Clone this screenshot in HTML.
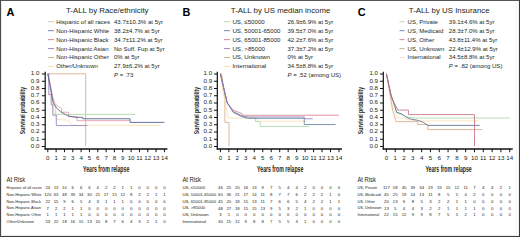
<!DOCTYPE html>
<html><head><meta charset="utf-8"><style>
html,body{margin:0;padding:0;background:#fff;width:520px;height:237px;overflow:hidden}
svg{display:block}
text{font-family:"Liberation Sans", sans-serif}
</style></head><body>
<svg width="520" height="237" viewBox="0 0 520 237">
<rect width="520" height="237" fill="#fff"/>
<text x="6.5" y="15.9" font-size="10.9" text-anchor="start" font-weight="bold" fill="#000" >A</text>
<text x="66" y="12.8" font-size="7.85" text-anchor="start" font-weight="normal" fill="#231f20" >T-ALL by Race/ethnicity</text>
<line x1="48" y1="21.7" x2="54" y2="21.7" stroke="#a8c8a0" stroke-width="0.8"/>
<text x="56.2" y="23.6" font-size="6.0" text-anchor="start" font-weight="normal" fill="#231f20" >Hispanic of all races</text>
<text x="114" y="23.6" font-size="6.05" text-anchor="start" font-weight="normal" fill="#231f20" >43.7±10.3% at 5yr</text>
<line x1="48" y1="30.67" x2="54" y2="30.67" stroke="#5a68a8" stroke-width="0.8"/>
<text x="56.2" y="32.57" font-size="6.0" text-anchor="start" font-weight="normal" fill="#231f20" >Non-Hispanic White</text>
<text x="114" y="32.57" font-size="6.05" text-anchor="start" font-weight="normal" fill="#231f20" >38.2±4.7% at 5yr</text>
<line x1="48" y1="39.64" x2="54" y2="39.64" stroke="#c0707f" stroke-width="0.8"/>
<text x="56.2" y="41.540000000000006" font-size="6.0" text-anchor="start" font-weight="normal" fill="#231f20" >Non-Hispanic Black</text>
<text x="114" y="41.540000000000006" font-size="6.05" text-anchor="start" font-weight="normal" fill="#231f20" >34.7±11.2% at 5yr</text>
<line x1="48" y1="48.61" x2="54" y2="48.61" stroke="#7a6aa8" stroke-width="0.8"/>
<text x="56.2" y="50.510000000000005" font-size="6.0" text-anchor="start" font-weight="normal" fill="#231f20" >Non-Hispanic Asian</text>
<text x="114" y="50.510000000000005" font-size="6.05" text-anchor="start" font-weight="normal" fill="#231f20" >No Suff. Fup at 5yr</text>
<line x1="48" y1="57.58" x2="54" y2="57.58" stroke="#bb9a70" stroke-width="0.8"/>
<text x="56.2" y="59.480000000000004" font-size="6.0" text-anchor="start" font-weight="normal" fill="#231f20" >Non-Hispanic Other</text>
<text x="114" y="59.480000000000004" font-size="6.05" text-anchor="start" font-weight="normal" fill="#231f20" >0% at 5yr</text>
<line x1="48" y1="66.55" x2="54" y2="66.55" stroke="#ecdca0" stroke-width="0.8"/>
<text x="56.2" y="68.45" font-size="6.0" text-anchor="start" font-weight="normal" fill="#231f20" >Other/Unknown</text>
<text x="114" y="68.45" font-size="6.05" text-anchor="start" font-weight="normal" fill="#231f20" >27.9±6.2% at 5yr</text>
<text x="114" y="77.42000000000002" font-size="6.05" fill="#231f20"><tspan font-style="italic">P</tspan> = .73</text>
<line x1="45.2" y1="71.8" x2="45.2" y2="149.6" stroke="#111" stroke-width="1.2"/>
<line x1="44.6" y1="149.0" x2="167.42000000000002" y2="149.0" stroke="#111" stroke-width="1.3"/>
<line x1="41.900000000000006" y1="146.5" x2="45.2" y2="146.5" stroke="#111" stroke-width="1.0"/>
<text x="39.4" y="147.9" font-size="6.2" text-anchor="end" font-weight="normal" fill="#231f20" >0.0</text>
<line x1="41.900000000000006" y1="139.25" x2="45.2" y2="139.25" stroke="#111" stroke-width="1.0"/>
<text x="39.4" y="140.65" font-size="6.2" text-anchor="end" font-weight="normal" fill="#231f20" >0.1</text>
<line x1="41.900000000000006" y1="132.0" x2="45.2" y2="132.0" stroke="#111" stroke-width="1.0"/>
<text x="39.4" y="133.4" font-size="6.2" text-anchor="end" font-weight="normal" fill="#231f20" >0.2</text>
<line x1="41.900000000000006" y1="124.75000000000001" x2="45.2" y2="124.75000000000001" stroke="#111" stroke-width="1.0"/>
<text x="39.4" y="126.15" font-size="6.2" text-anchor="end" font-weight="normal" fill="#231f20" >0.3</text>
<line x1="41.900000000000006" y1="117.50000000000001" x2="45.2" y2="117.50000000000001" stroke="#111" stroke-width="1.0"/>
<text x="39.4" y="118.9" font-size="6.2" text-anchor="end" font-weight="normal" fill="#231f20" >0.4</text>
<line x1="41.900000000000006" y1="110.25000000000001" x2="45.2" y2="110.25000000000001" stroke="#111" stroke-width="1.0"/>
<text x="39.4" y="111.65" font-size="6.2" text-anchor="end" font-weight="normal" fill="#231f20" >0.5</text>
<line x1="41.900000000000006" y1="103.00000000000001" x2="45.2" y2="103.00000000000001" stroke="#111" stroke-width="1.0"/>
<text x="39.4" y="104.4" font-size="6.2" text-anchor="end" font-weight="normal" fill="#231f20" >0.6</text>
<line x1="41.900000000000006" y1="95.75000000000001" x2="45.2" y2="95.75000000000001" stroke="#111" stroke-width="1.0"/>
<text x="39.4" y="97.15" font-size="6.2" text-anchor="end" font-weight="normal" fill="#231f20" >0.7</text>
<line x1="41.900000000000006" y1="88.50000000000001" x2="45.2" y2="88.50000000000001" stroke="#111" stroke-width="1.0"/>
<text x="39.4" y="89.9" font-size="6.2" text-anchor="end" font-weight="normal" fill="#231f20" >0.8</text>
<line x1="41.900000000000006" y1="81.25000000000001" x2="45.2" y2="81.25000000000001" stroke="#111" stroke-width="1.0"/>
<text x="39.4" y="82.65" font-size="6.2" text-anchor="end" font-weight="normal" fill="#231f20" >0.9</text>
<line x1="41.900000000000006" y1="74.00000000000001" x2="45.2" y2="74.00000000000001" stroke="#111" stroke-width="1.0"/>
<text x="39.4" y="75.4" font-size="6.2" text-anchor="end" font-weight="normal" fill="#231f20" >1.0</text>
<line x1="47.8" y1="149.0" x2="47.8" y2="152.2" stroke="#111" stroke-width="1.0"/>
<text x="47.8" y="160.2" font-size="6.2" text-anchor="middle" font-weight="normal" fill="#231f20" >0</text>
<line x1="56.129999999999995" y1="149.0" x2="56.129999999999995" y2="152.2" stroke="#111" stroke-width="1.0"/>
<text x="56.129999999999995" y="160.2" font-size="6.2" text-anchor="middle" font-weight="normal" fill="#231f20" >1</text>
<line x1="64.46" y1="149.0" x2="64.46" y2="152.2" stroke="#111" stroke-width="1.0"/>
<text x="64.46" y="160.2" font-size="6.2" text-anchor="middle" font-weight="normal" fill="#231f20" >2</text>
<line x1="72.78999999999999" y1="149.0" x2="72.78999999999999" y2="152.2" stroke="#111" stroke-width="1.0"/>
<text x="72.78999999999999" y="160.2" font-size="6.2" text-anchor="middle" font-weight="normal" fill="#231f20" >3</text>
<line x1="81.12" y1="149.0" x2="81.12" y2="152.2" stroke="#111" stroke-width="1.0"/>
<text x="81.12" y="160.2" font-size="6.2" text-anchor="middle" font-weight="normal" fill="#231f20" >4</text>
<line x1="89.44999999999999" y1="149.0" x2="89.44999999999999" y2="152.2" stroke="#111" stroke-width="1.0"/>
<text x="89.44999999999999" y="160.2" font-size="6.2" text-anchor="middle" font-weight="normal" fill="#231f20" >5</text>
<line x1="97.78" y1="149.0" x2="97.78" y2="152.2" stroke="#111" stroke-width="1.0"/>
<text x="97.78" y="160.2" font-size="6.2" text-anchor="middle" font-weight="normal" fill="#231f20" >6</text>
<line x1="106.11" y1="149.0" x2="106.11" y2="152.2" stroke="#111" stroke-width="1.0"/>
<text x="106.11" y="160.2" font-size="6.2" text-anchor="middle" font-weight="normal" fill="#231f20" >7</text>
<line x1="114.44" y1="149.0" x2="114.44" y2="152.2" stroke="#111" stroke-width="1.0"/>
<text x="114.44" y="160.2" font-size="6.2" text-anchor="middle" font-weight="normal" fill="#231f20" >8</text>
<line x1="122.77" y1="149.0" x2="122.77" y2="152.2" stroke="#111" stroke-width="1.0"/>
<text x="122.77" y="160.2" font-size="6.2" text-anchor="middle" font-weight="normal" fill="#231f20" >9</text>
<line x1="131.1" y1="149.0" x2="131.1" y2="152.2" stroke="#111" stroke-width="1.0"/>
<text x="131.1" y="160.2" font-size="6.2" text-anchor="middle" font-weight="normal" fill="#231f20" >10</text>
<line x1="139.43" y1="149.0" x2="139.43" y2="152.2" stroke="#111" stroke-width="1.0"/>
<text x="139.43" y="160.2" font-size="6.2" text-anchor="middle" font-weight="normal" fill="#231f20" >11</text>
<line x1="147.76" y1="149.0" x2="147.76" y2="152.2" stroke="#111" stroke-width="1.0"/>
<text x="147.76" y="160.2" font-size="6.2" text-anchor="middle" font-weight="normal" fill="#231f20" >12</text>
<line x1="156.09" y1="149.0" x2="156.09" y2="152.2" stroke="#111" stroke-width="1.0"/>
<text x="156.09" y="160.2" font-size="6.2" text-anchor="middle" font-weight="normal" fill="#231f20" >13</text>
<line x1="164.42000000000002" y1="149.0" x2="164.42000000000002" y2="152.2" stroke="#111" stroke-width="1.0"/>
<text x="164.42000000000002" y="160.2" font-size="6.2" text-anchor="middle" font-weight="normal" fill="#231f20" >14</text>
<text transform="translate(24.5,110.5) rotate(-90) scale(0.73,1)" font-size="7" font-weight="bold" text-anchor="middle" fill="#231f20">Survival probability</text>
<text transform="translate(83,172.1) scale(0.632,1)" font-size="8.2" font-weight="bold" text-anchor="start" fill="#231f20">Years from relapse</text>
<path d="M47.80,73.80 L85.70,73.80 L85.70,146.30 " fill="none" stroke="#d7a57a" stroke-width="0.8" />
<path d="M47.80,73.80 L50.30,88.30 L52.80,106.43 L55.30,117.30 L56.96,119.48 L68.62,120.20 L71.96,125.28 L160.25,125.28 " fill="none" stroke="#f6dfb0" stroke-width="0.8" />
<path d="M47.80,73.80 L50.30,86.13 L52.80,101.35 L55.71,108.60 L55.71,114.40 L135.26,114.40 " fill="none" stroke="#a6d6a0" stroke-width="0.8" />
<path d="M47.80,73.80 L50.30,83.95 L52.80,97.00 L55.30,104.25 L61.54,108.60 L61.54,112.23 L68.62,112.23 L68.62,116.58 L76.95,116.58 L76.95,120.64 L130.02,120.64 " fill="none" stroke="#e596a6" stroke-width="0.8" />
<path d="M47.80,73.80 L48.80,73.80 L48.80,94.54 L51.13,94.54 L51.13,104.90 L52.80,104.90 L52.80,115.13 L56.30,115.13 L56.30,125.57 L87.28,125.57 " fill="none" stroke="#8a78bb" stroke-width="0.8" />
<path d="M47.80,73.80 L49.88,84.68 L53.21,102.80 L56.55,107.88 L60.30,111.50 L65.29,114.40 L67.79,115.85 L75.29,117.30 L82.79,117.30 L82.79,118.75 L130.02,118.75 L130.02,122.38 L164.42,122.38 " fill="none" stroke="#55648f" stroke-width="0.9" />
<text x="6.6" y="181.9" font-size="6.6" text-anchor="start" font-weight="normal" fill="#231f20" textLength="18.6" lengthAdjust="spacingAndGlyphs">At Risk</text>
<text x="6.6" y="189.0" font-size="3.95" text-anchor="start" font-weight="normal" fill="#231f20" >Hispanic of all races</text>
<text x="47.8" y="189.1" font-size="4.25" text-anchor="middle" font-weight="normal" fill="#231f20" >24</text>
<text x="56.129999999999995" y="189.1" font-size="4.25" text-anchor="middle" font-weight="normal" fill="#231f20" >13</text>
<text x="64.46" y="189.1" font-size="4.25" text-anchor="middle" font-weight="normal" fill="#231f20" >10</text>
<text x="72.78999999999999" y="189.1" font-size="4.25" text-anchor="middle" font-weight="normal" fill="#231f20" >6</text>
<text x="81.12" y="189.1" font-size="4.25" text-anchor="middle" font-weight="normal" fill="#231f20" >6</text>
<text x="89.44999999999999" y="189.1" font-size="4.25" text-anchor="middle" font-weight="normal" fill="#231f20" >6</text>
<text x="97.78" y="189.1" font-size="4.25" text-anchor="middle" font-weight="normal" fill="#231f20" >4</text>
<text x="106.11" y="189.1" font-size="4.25" text-anchor="middle" font-weight="normal" fill="#231f20" >2</text>
<text x="114.44" y="189.1" font-size="4.25" text-anchor="middle" font-weight="normal" fill="#231f20" >2</text>
<text x="122.77" y="189.1" font-size="4.25" text-anchor="middle" font-weight="normal" fill="#231f20" >1</text>
<text x="131.1" y="189.1" font-size="4.25" text-anchor="middle" font-weight="normal" fill="#231f20" >1</text>
<text x="139.43" y="189.1" font-size="4.25" text-anchor="middle" font-weight="normal" fill="#231f20" >0</text>
<text x="147.76" y="189.1" font-size="4.25" text-anchor="middle" font-weight="normal" fill="#231f20" >0</text>
<text x="156.09" y="189.1" font-size="4.25" text-anchor="middle" font-weight="normal" fill="#231f20" >0</text>
<text x="164.42000000000002" y="189.1" font-size="4.25" text-anchor="middle" font-weight="normal" fill="#231f20" >0</text>
<text x="6.6" y="195.8" font-size="3.95" text-anchor="start" font-weight="normal" fill="#231f20" >Non-Hispanic White</text>
<text x="47.8" y="195.9" font-size="4.25" text-anchor="middle" font-weight="normal" fill="#231f20" >120</text>
<text x="56.129999999999995" y="195.9" font-size="4.25" text-anchor="middle" font-weight="normal" fill="#231f20" >63</text>
<text x="64.46" y="195.9" font-size="4.25" text-anchor="middle" font-weight="normal" fill="#231f20" >48</text>
<text x="72.78999999999999" y="195.9" font-size="4.25" text-anchor="middle" font-weight="normal" fill="#231f20" >39</text>
<text x="81.12" y="195.9" font-size="4.25" text-anchor="middle" font-weight="normal" fill="#231f20" >34</text>
<text x="89.44999999999999" y="195.9" font-size="4.25" text-anchor="middle" font-weight="normal" fill="#231f20" >30</text>
<text x="97.78" y="195.9" font-size="4.25" text-anchor="middle" font-weight="normal" fill="#231f20" >21</text>
<text x="106.11" y="195.9" font-size="4.25" text-anchor="middle" font-weight="normal" fill="#231f20" >17</text>
<text x="114.44" y="195.9" font-size="4.25" text-anchor="middle" font-weight="normal" fill="#231f20" >15</text>
<text x="122.77" y="195.9" font-size="4.25" text-anchor="middle" font-weight="normal" fill="#231f20" >12</text>
<text x="131.1" y="195.9" font-size="4.25" text-anchor="middle" font-weight="normal" fill="#231f20" >8</text>
<text x="139.43" y="195.9" font-size="4.25" text-anchor="middle" font-weight="normal" fill="#231f20" >2</text>
<text x="147.76" y="195.9" font-size="4.25" text-anchor="middle" font-weight="normal" fill="#231f20" >2</text>
<text x="156.09" y="195.9" font-size="4.25" text-anchor="middle" font-weight="normal" fill="#231f20" >1</text>
<text x="164.42000000000002" y="195.9" font-size="4.25" text-anchor="middle" font-weight="normal" fill="#231f20" >1</text>
<text x="6.6" y="202.70000000000002" font-size="3.95" text-anchor="start" font-weight="normal" fill="#231f20" >Non-Hispanic Black</text>
<text x="47.8" y="202.8" font-size="4.25" text-anchor="middle" font-weight="normal" fill="#231f20" >22</text>
<text x="56.129999999999995" y="202.8" font-size="4.25" text-anchor="middle" font-weight="normal" fill="#231f20" >15</text>
<text x="64.46" y="202.8" font-size="4.25" text-anchor="middle" font-weight="normal" fill="#231f20" >9</text>
<text x="72.78999999999999" y="202.8" font-size="4.25" text-anchor="middle" font-weight="normal" fill="#231f20" >6</text>
<text x="81.12" y="202.8" font-size="4.25" text-anchor="middle" font-weight="normal" fill="#231f20" >5</text>
<text x="89.44999999999999" y="202.8" font-size="4.25" text-anchor="middle" font-weight="normal" fill="#231f20" >4</text>
<text x="97.78" y="202.8" font-size="4.25" text-anchor="middle" font-weight="normal" fill="#231f20" >3</text>
<text x="106.11" y="202.8" font-size="4.25" text-anchor="middle" font-weight="normal" fill="#231f20" >1</text>
<text x="114.44" y="202.8" font-size="4.25" text-anchor="middle" font-weight="normal" fill="#231f20" >1</text>
<text x="122.77" y="202.8" font-size="4.25" text-anchor="middle" font-weight="normal" fill="#231f20" >1</text>
<text x="131.1" y="202.8" font-size="4.25" text-anchor="middle" font-weight="normal" fill="#231f20" >0</text>
<text x="139.43" y="202.8" font-size="4.25" text-anchor="middle" font-weight="normal" fill="#231f20" >0</text>
<text x="147.76" y="202.8" font-size="4.25" text-anchor="middle" font-weight="normal" fill="#231f20" >0</text>
<text x="156.09" y="202.8" font-size="4.25" text-anchor="middle" font-weight="normal" fill="#231f20" >0</text>
<text x="164.42000000000002" y="202.8" font-size="4.25" text-anchor="middle" font-weight="normal" fill="#231f20" >0</text>
<text x="6.6" y="209.4" font-size="3.95" text-anchor="start" font-weight="normal" fill="#231f20" >Non-Hispanic Asian</text>
<text x="47.8" y="209.5" font-size="4.25" text-anchor="middle" font-weight="normal" fill="#231f20" >7</text>
<text x="56.129999999999995" y="209.5" font-size="4.25" text-anchor="middle" font-weight="normal" fill="#231f20" >2</text>
<text x="64.46" y="209.5" font-size="4.25" text-anchor="middle" font-weight="normal" fill="#231f20" >2</text>
<text x="72.78999999999999" y="209.5" font-size="4.25" text-anchor="middle" font-weight="normal" fill="#231f20" >1</text>
<text x="81.12" y="209.5" font-size="4.25" text-anchor="middle" font-weight="normal" fill="#231f20" >1</text>
<text x="89.44999999999999" y="209.5" font-size="4.25" text-anchor="middle" font-weight="normal" fill="#231f20" >0</text>
<text x="97.78" y="209.5" font-size="4.25" text-anchor="middle" font-weight="normal" fill="#231f20" >0</text>
<text x="106.11" y="209.5" font-size="4.25" text-anchor="middle" font-weight="normal" fill="#231f20" >0</text>
<text x="114.44" y="209.5" font-size="4.25" text-anchor="middle" font-weight="normal" fill="#231f20" >0</text>
<text x="122.77" y="209.5" font-size="4.25" text-anchor="middle" font-weight="normal" fill="#231f20" >0</text>
<text x="131.1" y="209.5" font-size="4.25" text-anchor="middle" font-weight="normal" fill="#231f20" >0</text>
<text x="139.43" y="209.5" font-size="4.25" text-anchor="middle" font-weight="normal" fill="#231f20" >0</text>
<text x="147.76" y="209.5" font-size="4.25" text-anchor="middle" font-weight="normal" fill="#231f20" >0</text>
<text x="156.09" y="209.5" font-size="4.25" text-anchor="middle" font-weight="normal" fill="#231f20" >0</text>
<text x="164.42000000000002" y="209.5" font-size="4.25" text-anchor="middle" font-weight="normal" fill="#231f20" >0</text>
<text x="6.6" y="216.0" font-size="3.95" text-anchor="start" font-weight="normal" fill="#231f20" >Non-Hispanic Other</text>
<text x="47.8" y="216.1" font-size="4.25" text-anchor="middle" font-weight="normal" fill="#231f20" >1</text>
<text x="56.129999999999995" y="216.1" font-size="4.25" text-anchor="middle" font-weight="normal" fill="#231f20" >1</text>
<text x="64.46" y="216.1" font-size="4.25" text-anchor="middle" font-weight="normal" fill="#231f20" >1</text>
<text x="72.78999999999999" y="216.1" font-size="4.25" text-anchor="middle" font-weight="normal" fill="#231f20" >1</text>
<text x="81.12" y="216.1" font-size="4.25" text-anchor="middle" font-weight="normal" fill="#231f20" >1</text>
<text x="89.44999999999999" y="216.1" font-size="4.25" text-anchor="middle" font-weight="normal" fill="#231f20" >0</text>
<text x="97.78" y="216.1" font-size="4.25" text-anchor="middle" font-weight="normal" fill="#231f20" >0</text>
<text x="106.11" y="216.1" font-size="4.25" text-anchor="middle" font-weight="normal" fill="#231f20" >0</text>
<text x="114.44" y="216.1" font-size="4.25" text-anchor="middle" font-weight="normal" fill="#231f20" >0</text>
<text x="122.77" y="216.1" font-size="4.25" text-anchor="middle" font-weight="normal" fill="#231f20" >0</text>
<text x="131.1" y="216.1" font-size="4.25" text-anchor="middle" font-weight="normal" fill="#231f20" >0</text>
<text x="139.43" y="216.1" font-size="4.25" text-anchor="middle" font-weight="normal" fill="#231f20" >0</text>
<text x="147.76" y="216.1" font-size="4.25" text-anchor="middle" font-weight="normal" fill="#231f20" >0</text>
<text x="156.09" y="216.1" font-size="4.25" text-anchor="middle" font-weight="normal" fill="#231f20" >0</text>
<text x="164.42000000000002" y="216.1" font-size="4.25" text-anchor="middle" font-weight="normal" fill="#231f20" >0</text>
<text x="6.6" y="222.60000000000002" font-size="3.95" text-anchor="start" font-weight="normal" fill="#231f20" >Other/Unknown</text>
<text x="47.8" y="222.70000000000002" font-size="4.25" text-anchor="middle" font-weight="normal" fill="#231f20" >53</text>
<text x="56.129999999999995" y="222.70000000000002" font-size="4.25" text-anchor="middle" font-weight="normal" fill="#231f20" >22</text>
<text x="64.46" y="222.70000000000002" font-size="4.25" text-anchor="middle" font-weight="normal" fill="#231f20" >18</text>
<text x="72.78999999999999" y="222.70000000000002" font-size="4.25" text-anchor="middle" font-weight="normal" fill="#231f20" >16</text>
<text x="81.12" y="222.70000000000002" font-size="4.25" text-anchor="middle" font-weight="normal" fill="#231f20" >15</text>
<text x="89.44999999999999" y="222.70000000000002" font-size="4.25" text-anchor="middle" font-weight="normal" fill="#231f20" >13</text>
<text x="97.78" y="222.70000000000002" font-size="4.25" text-anchor="middle" font-weight="normal" fill="#231f20" >10</text>
<text x="106.11" y="222.70000000000002" font-size="4.25" text-anchor="middle" font-weight="normal" fill="#231f20" >8</text>
<text x="114.44" y="222.70000000000002" font-size="4.25" text-anchor="middle" font-weight="normal" fill="#231f20" >7</text>
<text x="122.77" y="222.70000000000002" font-size="4.25" text-anchor="middle" font-weight="normal" fill="#231f20" >6</text>
<text x="131.1" y="222.70000000000002" font-size="4.25" text-anchor="middle" font-weight="normal" fill="#231f20" >4</text>
<text x="139.43" y="222.70000000000002" font-size="4.25" text-anchor="middle" font-weight="normal" fill="#231f20" >3</text>
<text x="147.76" y="222.70000000000002" font-size="4.25" text-anchor="middle" font-weight="normal" fill="#231f20" >2</text>
<text x="156.09" y="222.70000000000002" font-size="4.25" text-anchor="middle" font-weight="normal" fill="#231f20" >1</text>
<text x="164.42000000000002" y="222.70000000000002" font-size="4.25" text-anchor="middle" font-weight="normal" fill="#231f20" >0</text>
<text x="182.6" y="15.9" font-size="10.9" text-anchor="start" font-weight="bold" fill="#000" >B</text>
<text x="230.8" y="12.8" font-size="7.85" text-anchor="start" font-weight="normal" fill="#231f20" >T-ALL by US median income</text>
<line x1="224" y1="21.7" x2="230" y2="21.7" stroke="#a8c8a0" stroke-width="0.8"/>
<text x="232.4" y="23.6" font-size="6.15" text-anchor="start" font-weight="normal" fill="#231f20" >US, ≤50000</text>
<text x="287.5" y="23.6" font-size="6.05" text-anchor="start" font-weight="normal" fill="#231f20" >26.9±6.9% at 5yr</text>
<line x1="224" y1="30.67" x2="230" y2="30.67" stroke="#5a68a8" stroke-width="0.8"/>
<text x="232.4" y="32.57" font-size="6.15" text-anchor="start" font-weight="normal" fill="#231f20" >US, 50001-65000</text>
<text x="287.5" y="32.57" font-size="6.05" text-anchor="start" font-weight="normal" fill="#231f20" >39.5±7.0% at 5yr</text>
<line x1="224" y1="39.64" x2="230" y2="39.64" stroke="#c0707f" stroke-width="0.8"/>
<text x="232.4" y="41.540000000000006" font-size="6.15" text-anchor="start" font-weight="normal" fill="#231f20" >US, 65001-85000</text>
<text x="287.5" y="41.540000000000006" font-size="6.05" text-anchor="start" font-weight="normal" fill="#231f20" >42.2±7.6% at 5yr</text>
<line x1="224" y1="48.61" x2="230" y2="48.61" stroke="#7a6aa8" stroke-width="0.8"/>
<text x="232.4" y="50.510000000000005" font-size="6.15" text-anchor="start" font-weight="normal" fill="#231f20" >US, &gt;85000</text>
<text x="287.5" y="50.510000000000005" font-size="6.05" text-anchor="start" font-weight="normal" fill="#231f20" >37.3±7.2% at 5yr</text>
<line x1="224" y1="57.58" x2="230" y2="57.58" stroke="#bb9a70" stroke-width="0.8"/>
<text x="232.4" y="59.480000000000004" font-size="6.15" text-anchor="start" font-weight="normal" fill="#231f20" >US, Unknown</text>
<text x="287.5" y="59.480000000000004" font-size="6.05" text-anchor="start" font-weight="normal" fill="#231f20" >0% at 5yr</text>
<line x1="224" y1="66.55" x2="230" y2="66.55" stroke="#ecdca0" stroke-width="0.8"/>
<text x="232.4" y="68.45" font-size="6.15" text-anchor="start" font-weight="normal" fill="#231f20" >International</text>
<text x="287.5" y="68.45" font-size="6.05" text-anchor="start" font-weight="normal" fill="#231f20" >34.5±8.8% at 5yr</text>
<text x="287.5" y="77.42000000000002" font-size="6.05" fill="#231f20"><tspan font-style="italic">P</tspan> = .52 (among US)</text>
<line x1="217.3" y1="71.8" x2="217.3" y2="149.6" stroke="#111" stroke-width="1.2"/>
<line x1="216.70000000000002" y1="149.0" x2="341.98" y2="149.0" stroke="#111" stroke-width="1.3"/>
<line x1="214.0" y1="146.5" x2="217.3" y2="146.5" stroke="#111" stroke-width="1.0"/>
<text x="212.1" y="147.9" font-size="6.2" text-anchor="end" font-weight="normal" fill="#231f20" >0.0</text>
<line x1="214.0" y1="139.25" x2="217.3" y2="139.25" stroke="#111" stroke-width="1.0"/>
<text x="212.1" y="140.65" font-size="6.2" text-anchor="end" font-weight="normal" fill="#231f20" >0.1</text>
<line x1="214.0" y1="132.0" x2="217.3" y2="132.0" stroke="#111" stroke-width="1.0"/>
<text x="212.1" y="133.4" font-size="6.2" text-anchor="end" font-weight="normal" fill="#231f20" >0.2</text>
<line x1="214.0" y1="124.75000000000001" x2="217.3" y2="124.75000000000001" stroke="#111" stroke-width="1.0"/>
<text x="212.1" y="126.15" font-size="6.2" text-anchor="end" font-weight="normal" fill="#231f20" >0.3</text>
<line x1="214.0" y1="117.50000000000001" x2="217.3" y2="117.50000000000001" stroke="#111" stroke-width="1.0"/>
<text x="212.1" y="118.9" font-size="6.2" text-anchor="end" font-weight="normal" fill="#231f20" >0.4</text>
<line x1="214.0" y1="110.25000000000001" x2="217.3" y2="110.25000000000001" stroke="#111" stroke-width="1.0"/>
<text x="212.1" y="111.65" font-size="6.2" text-anchor="end" font-weight="normal" fill="#231f20" >0.5</text>
<line x1="214.0" y1="103.00000000000001" x2="217.3" y2="103.00000000000001" stroke="#111" stroke-width="1.0"/>
<text x="212.1" y="104.4" font-size="6.2" text-anchor="end" font-weight="normal" fill="#231f20" >0.6</text>
<line x1="214.0" y1="95.75000000000001" x2="217.3" y2="95.75000000000001" stroke="#111" stroke-width="1.0"/>
<text x="212.1" y="97.15" font-size="6.2" text-anchor="end" font-weight="normal" fill="#231f20" >0.7</text>
<line x1="214.0" y1="88.50000000000001" x2="217.3" y2="88.50000000000001" stroke="#111" stroke-width="1.0"/>
<text x="212.1" y="89.9" font-size="6.2" text-anchor="end" font-weight="normal" fill="#231f20" >0.8</text>
<line x1="214.0" y1="81.25000000000001" x2="217.3" y2="81.25000000000001" stroke="#111" stroke-width="1.0"/>
<text x="212.1" y="82.65" font-size="6.2" text-anchor="end" font-weight="normal" fill="#231f20" >0.9</text>
<line x1="214.0" y1="74.00000000000001" x2="217.3" y2="74.00000000000001" stroke="#111" stroke-width="1.0"/>
<text x="212.1" y="75.4" font-size="6.2" text-anchor="end" font-weight="normal" fill="#231f20" >1.0</text>
<line x1="220.4" y1="149.0" x2="220.4" y2="152.2" stroke="#111" stroke-width="1.0"/>
<text x="220.4" y="160.2" font-size="6.2" text-anchor="middle" font-weight="normal" fill="#231f20" >0</text>
<line x1="228.87" y1="149.0" x2="228.87" y2="152.2" stroke="#111" stroke-width="1.0"/>
<text x="228.87" y="160.2" font-size="6.2" text-anchor="middle" font-weight="normal" fill="#231f20" >1</text>
<line x1="237.34" y1="149.0" x2="237.34" y2="152.2" stroke="#111" stroke-width="1.0"/>
<text x="237.34" y="160.2" font-size="6.2" text-anchor="middle" font-weight="normal" fill="#231f20" >2</text>
<line x1="245.81" y1="149.0" x2="245.81" y2="152.2" stroke="#111" stroke-width="1.0"/>
<text x="245.81" y="160.2" font-size="6.2" text-anchor="middle" font-weight="normal" fill="#231f20" >3</text>
<line x1="254.28" y1="149.0" x2="254.28" y2="152.2" stroke="#111" stroke-width="1.0"/>
<text x="254.28" y="160.2" font-size="6.2" text-anchor="middle" font-weight="normal" fill="#231f20" >4</text>
<line x1="262.75" y1="149.0" x2="262.75" y2="152.2" stroke="#111" stroke-width="1.0"/>
<text x="262.75" y="160.2" font-size="6.2" text-anchor="middle" font-weight="normal" fill="#231f20" >5</text>
<line x1="271.22" y1="149.0" x2="271.22" y2="152.2" stroke="#111" stroke-width="1.0"/>
<text x="271.22" y="160.2" font-size="6.2" text-anchor="middle" font-weight="normal" fill="#231f20" >6</text>
<line x1="279.69" y1="149.0" x2="279.69" y2="152.2" stroke="#111" stroke-width="1.0"/>
<text x="279.69" y="160.2" font-size="6.2" text-anchor="middle" font-weight="normal" fill="#231f20" >7</text>
<line x1="288.16" y1="149.0" x2="288.16" y2="152.2" stroke="#111" stroke-width="1.0"/>
<text x="288.16" y="160.2" font-size="6.2" text-anchor="middle" font-weight="normal" fill="#231f20" >8</text>
<line x1="296.63" y1="149.0" x2="296.63" y2="152.2" stroke="#111" stroke-width="1.0"/>
<text x="296.63" y="160.2" font-size="6.2" text-anchor="middle" font-weight="normal" fill="#231f20" >9</text>
<line x1="305.1" y1="149.0" x2="305.1" y2="152.2" stroke="#111" stroke-width="1.0"/>
<text x="305.1" y="160.2" font-size="6.2" text-anchor="middle" font-weight="normal" fill="#231f20" >10</text>
<line x1="313.57" y1="149.0" x2="313.57" y2="152.2" stroke="#111" stroke-width="1.0"/>
<text x="313.57" y="160.2" font-size="6.2" text-anchor="middle" font-weight="normal" fill="#231f20" >11</text>
<line x1="322.04" y1="149.0" x2="322.04" y2="152.2" stroke="#111" stroke-width="1.0"/>
<text x="322.04" y="160.2" font-size="6.2" text-anchor="middle" font-weight="normal" fill="#231f20" >12</text>
<line x1="330.51" y1="149.0" x2="330.51" y2="152.2" stroke="#111" stroke-width="1.0"/>
<text x="330.51" y="160.2" font-size="6.2" text-anchor="middle" font-weight="normal" fill="#231f20" >13</text>
<line x1="338.98" y1="149.0" x2="338.98" y2="152.2" stroke="#111" stroke-width="1.0"/>
<text x="338.98" y="160.2" font-size="6.2" text-anchor="middle" font-weight="normal" fill="#231f20" >14</text>
<text transform="translate(198.5,110.5) rotate(-90) scale(0.73,1)" font-size="7" font-weight="bold" text-anchor="middle" fill="#231f20">Survival probability</text>
<text transform="translate(257.1,172.1) scale(0.632,1)" font-size="8.2" font-weight="bold" text-anchor="start" fill="#231f20">Years from relapse</text>
<path d="M220.40,73.80 L221.67,73.80 L224.89,97.73 L224.89,122.38 L229.04,122.38 L229.04,146.30 " fill="none" stroke="#d7a57a" stroke-width="0.8" />
<path d="M220.40,73.80 L223.79,95.55 L228.45,118.03 L237.34,118.03 L257.67,118.03 L257.67,121.22 L307.64,121.22 " fill="none" stroke="#f6dfb0" stroke-width="0.8" />
<path d="M220.40,73.80 L222.94,84.68 L227.18,102.80 L233.11,111.50 L241.58,115.85 L245.81,118.03 L255.55,118.03 L255.55,121.65 L260.21,121.65 L260.21,126.44 L309.34,126.44 " fill="none" stroke="#a6d6a0" stroke-width="0.8" />
<path d="M220.40,73.80 L222.94,84.68 L227.18,102.80 L233.11,110.05 L242.00,113.68 L242.00,115.27 L338.98,115.27 " fill="none" stroke="#e0788a" stroke-width="0.8" />
<path d="M220.40,73.80 L222.94,84.68 L227.18,102.80 L233.11,112.23 L241.58,116.58 L248.35,118.32 L304.25,118.32 L304.25,124.55 L335.59,124.55 " fill="none" stroke="#5a7aa0" stroke-width="0.8" />
<path d="M220.40,73.80 L222.94,84.68 L227.18,102.80 L233.11,111.50 L241.58,115.85 L248.35,116.94 L304.25,116.94 L304.25,118.75 L312.72,118.75 " fill="none" stroke="#8a78bb" stroke-width="0.8" />
<text x="182.4" y="181.9" font-size="6.6" text-anchor="start" font-weight="normal" fill="#231f20" textLength="18.6" lengthAdjust="spacingAndGlyphs">At Risk</text>
<text x="182.4" y="189.0" font-size="4.3" text-anchor="start" font-weight="normal" fill="#231f20" >US, ≤50000</text>
<text x="220.4" y="189.1" font-size="4.25" text-anchor="middle" font-weight="normal" fill="#231f20" >46</text>
<text x="228.87" y="189.1" font-size="4.25" text-anchor="middle" font-weight="normal" fill="#231f20" >25</text>
<text x="237.34" y="189.1" font-size="4.25" text-anchor="middle" font-weight="normal" fill="#231f20" >20</text>
<text x="245.81" y="189.1" font-size="4.25" text-anchor="middle" font-weight="normal" fill="#231f20" >16</text>
<text x="254.28" y="189.1" font-size="4.25" text-anchor="middle" font-weight="normal" fill="#231f20" >13</text>
<text x="262.75" y="189.1" font-size="4.25" text-anchor="middle" font-weight="normal" fill="#231f20" >9</text>
<text x="271.22" y="189.1" font-size="4.25" text-anchor="middle" font-weight="normal" fill="#231f20" >7</text>
<text x="279.69" y="189.1" font-size="4.25" text-anchor="middle" font-weight="normal" fill="#231f20" >5</text>
<text x="288.16" y="189.1" font-size="4.25" text-anchor="middle" font-weight="normal" fill="#231f20" >4</text>
<text x="296.63" y="189.1" font-size="4.25" text-anchor="middle" font-weight="normal" fill="#231f20" >4</text>
<text x="305.1" y="189.1" font-size="4.25" text-anchor="middle" font-weight="normal" fill="#231f20" >2</text>
<text x="313.57" y="189.1" font-size="4.25" text-anchor="middle" font-weight="normal" fill="#231f20" >0</text>
<text x="322.04" y="189.1" font-size="4.25" text-anchor="middle" font-weight="normal" fill="#231f20" >0</text>
<text x="330.51" y="189.1" font-size="4.25" text-anchor="middle" font-weight="normal" fill="#231f20" >0</text>
<text x="338.98" y="189.1" font-size="4.25" text-anchor="middle" font-weight="normal" fill="#231f20" >0</text>
<text x="182.4" y="195.8" font-size="4.3" text-anchor="start" font-weight="normal" fill="#231f20" >US, 50001-65000</text>
<text x="220.4" y="195.9" font-size="4.25" text-anchor="middle" font-weight="normal" fill="#231f20" >60</text>
<text x="228.87" y="195.9" font-size="4.25" text-anchor="middle" font-weight="normal" fill="#231f20" >36</text>
<text x="237.34" y="195.9" font-size="4.25" text-anchor="middle" font-weight="normal" fill="#231f20" >21</text>
<text x="245.81" y="195.9" font-size="4.25" text-anchor="middle" font-weight="normal" fill="#231f20" >17</text>
<text x="254.28" y="195.9" font-size="4.25" text-anchor="middle" font-weight="normal" fill="#231f20" >14</text>
<text x="262.75" y="195.9" font-size="4.25" text-anchor="middle" font-weight="normal" fill="#231f20" >11</text>
<text x="271.22" y="195.9" font-size="4.25" text-anchor="middle" font-weight="normal" fill="#231f20" >8</text>
<text x="279.69" y="195.9" font-size="4.25" text-anchor="middle" font-weight="normal" fill="#231f20" >7</text>
<text x="288.16" y="195.9" font-size="4.25" text-anchor="middle" font-weight="normal" fill="#231f20" >7</text>
<text x="296.63" y="195.9" font-size="4.25" text-anchor="middle" font-weight="normal" fill="#231f20" >6</text>
<text x="305.1" y="195.9" font-size="4.25" text-anchor="middle" font-weight="normal" fill="#231f20" >2</text>
<text x="313.57" y="195.9" font-size="4.25" text-anchor="middle" font-weight="normal" fill="#231f20" >2</text>
<text x="322.04" y="195.9" font-size="4.25" text-anchor="middle" font-weight="normal" fill="#231f20" >2</text>
<text x="330.51" y="195.9" font-size="4.25" text-anchor="middle" font-weight="normal" fill="#231f20" >1</text>
<text x="338.98" y="195.9" font-size="4.25" text-anchor="middle" font-weight="normal" fill="#231f20" >0</text>
<text x="182.4" y="202.70000000000002" font-size="4.3" text-anchor="start" font-weight="normal" fill="#231f20" >US, 65001-85000</text>
<text x="220.4" y="202.8" font-size="4.25" text-anchor="middle" font-weight="normal" fill="#231f20" >45</text>
<text x="228.87" y="202.8" font-size="4.25" text-anchor="middle" font-weight="normal" fill="#231f20" >20</text>
<text x="237.34" y="202.8" font-size="4.25" text-anchor="middle" font-weight="normal" fill="#231f20" >18</text>
<text x="245.81" y="202.8" font-size="4.25" text-anchor="middle" font-weight="normal" fill="#231f20" >15</text>
<text x="254.28" y="202.8" font-size="4.25" text-anchor="middle" font-weight="normal" fill="#231f20" >13</text>
<text x="262.75" y="202.8" font-size="4.25" text-anchor="middle" font-weight="normal" fill="#231f20" >11</text>
<text x="271.22" y="202.8" font-size="4.25" text-anchor="middle" font-weight="normal" fill="#231f20" >7</text>
<text x="279.69" y="202.8" font-size="4.25" text-anchor="middle" font-weight="normal" fill="#231f20" >6</text>
<text x="288.16" y="202.8" font-size="4.25" text-anchor="middle" font-weight="normal" fill="#231f20" >6</text>
<text x="296.63" y="202.8" font-size="4.25" text-anchor="middle" font-weight="normal" fill="#231f20" >5</text>
<text x="305.1" y="202.8" font-size="4.25" text-anchor="middle" font-weight="normal" fill="#231f20" >4</text>
<text x="313.57" y="202.8" font-size="4.25" text-anchor="middle" font-weight="normal" fill="#231f20" >2</text>
<text x="322.04" y="202.8" font-size="4.25" text-anchor="middle" font-weight="normal" fill="#231f20" >2</text>
<text x="330.51" y="202.8" font-size="4.25" text-anchor="middle" font-weight="normal" fill="#231f20" >1</text>
<text x="338.98" y="202.8" font-size="4.25" text-anchor="middle" font-weight="normal" fill="#231f20" >1</text>
<text x="182.4" y="209.4" font-size="4.3" text-anchor="start" font-weight="normal" fill="#231f20" >US, &gt;85000</text>
<text x="220.4" y="209.5" font-size="4.25" text-anchor="middle" font-weight="normal" fill="#231f20" >48</text>
<text x="228.87" y="209.5" font-size="4.25" text-anchor="middle" font-weight="normal" fill="#231f20" >27</text>
<text x="237.34" y="209.5" font-size="4.25" text-anchor="middle" font-weight="normal" fill="#231f20" >18</text>
<text x="245.81" y="209.5" font-size="4.25" text-anchor="middle" font-weight="normal" fill="#231f20" >15</text>
<text x="254.28" y="209.5" font-size="4.25" text-anchor="middle" font-weight="normal" fill="#231f20" >15</text>
<text x="262.75" y="209.5" font-size="4.25" text-anchor="middle" font-weight="normal" fill="#231f20" >13</text>
<text x="271.22" y="209.5" font-size="4.25" text-anchor="middle" font-weight="normal" fill="#231f20" >9</text>
<text x="279.69" y="209.5" font-size="4.25" text-anchor="middle" font-weight="normal" fill="#231f20" >5</text>
<text x="288.16" y="209.5" font-size="4.25" text-anchor="middle" font-weight="normal" fill="#231f20" >3</text>
<text x="296.63" y="209.5" font-size="4.25" text-anchor="middle" font-weight="normal" fill="#231f20" >2</text>
<text x="305.1" y="209.5" font-size="4.25" text-anchor="middle" font-weight="normal" fill="#231f20" >1</text>
<text x="313.57" y="209.5" font-size="4.25" text-anchor="middle" font-weight="normal" fill="#231f20" >0</text>
<text x="322.04" y="209.5" font-size="4.25" text-anchor="middle" font-weight="normal" fill="#231f20" >0</text>
<text x="330.51" y="209.5" font-size="4.25" text-anchor="middle" font-weight="normal" fill="#231f20" >0</text>
<text x="338.98" y="209.5" font-size="4.25" text-anchor="middle" font-weight="normal" fill="#231f20" >0</text>
<text x="182.4" y="216.0" font-size="4.3" text-anchor="start" font-weight="normal" fill="#231f20" >US, Unknown</text>
<text x="220.4" y="216.1" font-size="4.25" text-anchor="middle" font-weight="normal" fill="#231f20" >3</text>
<text x="228.87" y="216.1" font-size="4.25" text-anchor="middle" font-weight="normal" fill="#231f20" >1</text>
<text x="237.34" y="216.1" font-size="4.25" text-anchor="middle" font-weight="normal" fill="#231f20" >0</text>
<text x="245.81" y="216.1" font-size="4.25" text-anchor="middle" font-weight="normal" fill="#231f20" >0</text>
<text x="254.28" y="216.1" font-size="4.25" text-anchor="middle" font-weight="normal" fill="#231f20" >0</text>
<text x="262.75" y="216.1" font-size="4.25" text-anchor="middle" font-weight="normal" fill="#231f20" >0</text>
<text x="271.22" y="216.1" font-size="4.25" text-anchor="middle" font-weight="normal" fill="#231f20" >0</text>
<text x="279.69" y="216.1" font-size="4.25" text-anchor="middle" font-weight="normal" fill="#231f20" >0</text>
<text x="288.16" y="216.1" font-size="4.25" text-anchor="middle" font-weight="normal" fill="#231f20" >0</text>
<text x="296.63" y="216.1" font-size="4.25" text-anchor="middle" font-weight="normal" fill="#231f20" >0</text>
<text x="305.1" y="216.1" font-size="4.25" text-anchor="middle" font-weight="normal" fill="#231f20" >0</text>
<text x="313.57" y="216.1" font-size="4.25" text-anchor="middle" font-weight="normal" fill="#231f20" >0</text>
<text x="322.04" y="216.1" font-size="4.25" text-anchor="middle" font-weight="normal" fill="#231f20" >0</text>
<text x="330.51" y="216.1" font-size="4.25" text-anchor="middle" font-weight="normal" fill="#231f20" >0</text>
<text x="338.98" y="216.1" font-size="4.25" text-anchor="middle" font-weight="normal" fill="#231f20" >0</text>
<text x="182.4" y="222.60000000000002" font-size="4.3" text-anchor="start" font-weight="normal" fill="#231f20" >International</text>
<text x="220.4" y="222.70000000000002" font-size="4.25" text-anchor="middle" font-weight="normal" fill="#231f20" >30</text>
<text x="228.87" y="222.70000000000002" font-size="4.25" text-anchor="middle" font-weight="normal" fill="#231f20" >15</text>
<text x="237.34" y="222.70000000000002" font-size="4.25" text-anchor="middle" font-weight="normal" fill="#231f20" >12</text>
<text x="245.81" y="222.70000000000002" font-size="4.25" text-anchor="middle" font-weight="normal" fill="#231f20" >9</text>
<text x="254.28" y="222.70000000000002" font-size="4.25" text-anchor="middle" font-weight="normal" fill="#231f20" >8</text>
<text x="262.75" y="222.70000000000002" font-size="4.25" text-anchor="middle" font-weight="normal" fill="#231f20" >8</text>
<text x="271.22" y="222.70000000000002" font-size="4.25" text-anchor="middle" font-weight="normal" fill="#231f20" >7</text>
<text x="279.69" y="222.70000000000002" font-size="4.25" text-anchor="middle" font-weight="normal" fill="#231f20" >5</text>
<text x="288.16" y="222.70000000000002" font-size="4.25" text-anchor="middle" font-weight="normal" fill="#231f20" >5</text>
<text x="296.63" y="222.70000000000002" font-size="4.25" text-anchor="middle" font-weight="normal" fill="#231f20" >3</text>
<text x="305.1" y="222.70000000000002" font-size="4.25" text-anchor="middle" font-weight="normal" fill="#231f20" >1</text>
<text x="313.57" y="222.70000000000002" font-size="4.25" text-anchor="middle" font-weight="normal" fill="#231f20" >0</text>
<text x="322.04" y="222.70000000000002" font-size="4.25" text-anchor="middle" font-weight="normal" fill="#231f20" >0</text>
<text x="330.51" y="222.70000000000002" font-size="4.25" text-anchor="middle" font-weight="normal" fill="#231f20" >0</text>
<text x="338.98" y="222.70000000000002" font-size="4.25" text-anchor="middle" font-weight="normal" fill="#231f20" >0</text>
<text x="357.7" y="15.9" font-size="10.9" text-anchor="start" font-weight="bold" fill="#000" >C</text>
<text x="408.8" y="12.8" font-size="7.85" text-anchor="start" font-weight="normal" fill="#231f20" >T-ALL by US Insurance</text>
<line x1="399.5" y1="21.7" x2="404.5" y2="21.7" stroke="#a8c8a0" stroke-width="0.8"/>
<text x="407.6" y="23.6" font-size="6.0" text-anchor="start" font-weight="normal" fill="#231f20" >US, Private</text>
<text x="448.8" y="23.6" font-size="6.05" text-anchor="start" font-weight="normal" fill="#231f20" >39.1±4.6% at 5yr</text>
<line x1="399.5" y1="30.67" x2="404.5" y2="30.67" stroke="#5a68a8" stroke-width="0.8"/>
<text x="407.6" y="32.57" font-size="6.0" text-anchor="start" font-weight="normal" fill="#231f20" >US, Medicaid</text>
<text x="448.8" y="32.57" font-size="6.05" text-anchor="start" font-weight="normal" fill="#231f20" >28.3±7.0% at 5yr</text>
<line x1="399.5" y1="39.64" x2="404.5" y2="39.64" stroke="#c0707f" stroke-width="0.8"/>
<text x="407.6" y="41.540000000000006" font-size="6.0" text-anchor="start" font-weight="normal" fill="#231f20" >US, Other</text>
<text x="448.8" y="41.540000000000006" font-size="6.05" text-anchor="start" font-weight="normal" fill="#231f20" >43.8±11.4% at 5yr</text>
<line x1="399.5" y1="48.61" x2="404.5" y2="48.61" stroke="#bb9a70" stroke-width="0.8"/>
<text x="407.6" y="50.510000000000005" font-size="6.0" text-anchor="start" font-weight="normal" fill="#231f20" >US, Unknown</text>
<text x="448.8" y="50.510000000000005" font-size="6.05" text-anchor="start" font-weight="normal" fill="#231f20" >22.4±12.9% at 5yr</text>
<line x1="399.5" y1="57.58" x2="404.5" y2="57.58" stroke="#ecdca0" stroke-width="0.8"/>
<text x="407.6" y="59.480000000000004" font-size="6.0" text-anchor="start" font-weight="normal" fill="#231f20" >International</text>
<text x="448.8" y="59.480000000000004" font-size="6.05" text-anchor="start" font-weight="normal" fill="#231f20" >34.5±8.8% at 5yr</text>
<text x="448.8" y="68.45" font-size="6.05" fill="#231f20"><tspan font-style="italic">P</tspan> = .82 (among US)</text>
<line x1="383.3" y1="71.8" x2="383.3" y2="149.6" stroke="#111" stroke-width="1.2"/>
<line x1="382.7" y1="149.0" x2="512.74" y2="149.0" stroke="#111" stroke-width="1.3"/>
<line x1="380.0" y1="146.5" x2="383.3" y2="146.5" stroke="#111" stroke-width="1.0"/>
<text x="378" y="147.9" font-size="6.2" text-anchor="end" font-weight="normal" fill="#231f20" >0.0</text>
<line x1="380.0" y1="139.25" x2="383.3" y2="139.25" stroke="#111" stroke-width="1.0"/>
<text x="378" y="140.65" font-size="6.2" text-anchor="end" font-weight="normal" fill="#231f20" >0.1</text>
<line x1="380.0" y1="132.0" x2="383.3" y2="132.0" stroke="#111" stroke-width="1.0"/>
<text x="378" y="133.4" font-size="6.2" text-anchor="end" font-weight="normal" fill="#231f20" >0.2</text>
<line x1="380.0" y1="124.75000000000001" x2="383.3" y2="124.75000000000001" stroke="#111" stroke-width="1.0"/>
<text x="378" y="126.15" font-size="6.2" text-anchor="end" font-weight="normal" fill="#231f20" >0.3</text>
<line x1="380.0" y1="117.50000000000001" x2="383.3" y2="117.50000000000001" stroke="#111" stroke-width="1.0"/>
<text x="378" y="118.9" font-size="6.2" text-anchor="end" font-weight="normal" fill="#231f20" >0.4</text>
<line x1="380.0" y1="110.25000000000001" x2="383.3" y2="110.25000000000001" stroke="#111" stroke-width="1.0"/>
<text x="378" y="111.65" font-size="6.2" text-anchor="end" font-weight="normal" fill="#231f20" >0.5</text>
<line x1="380.0" y1="103.00000000000001" x2="383.3" y2="103.00000000000001" stroke="#111" stroke-width="1.0"/>
<text x="378" y="104.4" font-size="6.2" text-anchor="end" font-weight="normal" fill="#231f20" >0.6</text>
<line x1="380.0" y1="95.75000000000001" x2="383.3" y2="95.75000000000001" stroke="#111" stroke-width="1.0"/>
<text x="378" y="97.15" font-size="6.2" text-anchor="end" font-weight="normal" fill="#231f20" >0.7</text>
<line x1="380.0" y1="88.50000000000001" x2="383.3" y2="88.50000000000001" stroke="#111" stroke-width="1.0"/>
<text x="378" y="89.9" font-size="6.2" text-anchor="end" font-weight="normal" fill="#231f20" >0.8</text>
<line x1="380.0" y1="81.25000000000001" x2="383.3" y2="81.25000000000001" stroke="#111" stroke-width="1.0"/>
<text x="378" y="82.65" font-size="6.2" text-anchor="end" font-weight="normal" fill="#231f20" >0.9</text>
<line x1="380.0" y1="74.00000000000001" x2="383.3" y2="74.00000000000001" stroke="#111" stroke-width="1.0"/>
<text x="378" y="75.4" font-size="6.2" text-anchor="end" font-weight="normal" fill="#231f20" >1.0</text>
<line x1="386.4" y1="149.0" x2="386.4" y2="152.2" stroke="#111" stroke-width="1.0"/>
<text x="386.4" y="160.2" font-size="6.2" text-anchor="middle" font-weight="normal" fill="#231f20" >0</text>
<line x1="395.21" y1="149.0" x2="395.21" y2="152.2" stroke="#111" stroke-width="1.0"/>
<text x="395.21" y="160.2" font-size="6.2" text-anchor="middle" font-weight="normal" fill="#231f20" >1</text>
<line x1="404.02" y1="149.0" x2="404.02" y2="152.2" stroke="#111" stroke-width="1.0"/>
<text x="404.02" y="160.2" font-size="6.2" text-anchor="middle" font-weight="normal" fill="#231f20" >2</text>
<line x1="412.83" y1="149.0" x2="412.83" y2="152.2" stroke="#111" stroke-width="1.0"/>
<text x="412.83" y="160.2" font-size="6.2" text-anchor="middle" font-weight="normal" fill="#231f20" >3</text>
<line x1="421.64" y1="149.0" x2="421.64" y2="152.2" stroke="#111" stroke-width="1.0"/>
<text x="421.64" y="160.2" font-size="6.2" text-anchor="middle" font-weight="normal" fill="#231f20" >4</text>
<line x1="430.45" y1="149.0" x2="430.45" y2="152.2" stroke="#111" stroke-width="1.0"/>
<text x="430.45" y="160.2" font-size="6.2" text-anchor="middle" font-weight="normal" fill="#231f20" >5</text>
<line x1="439.26" y1="149.0" x2="439.26" y2="152.2" stroke="#111" stroke-width="1.0"/>
<text x="439.26" y="160.2" font-size="6.2" text-anchor="middle" font-weight="normal" fill="#231f20" >6</text>
<line x1="448.07" y1="149.0" x2="448.07" y2="152.2" stroke="#111" stroke-width="1.0"/>
<text x="448.07" y="160.2" font-size="6.2" text-anchor="middle" font-weight="normal" fill="#231f20" >7</text>
<line x1="456.88" y1="149.0" x2="456.88" y2="152.2" stroke="#111" stroke-width="1.0"/>
<text x="456.88" y="160.2" font-size="6.2" text-anchor="middle" font-weight="normal" fill="#231f20" >8</text>
<line x1="465.69" y1="149.0" x2="465.69" y2="152.2" stroke="#111" stroke-width="1.0"/>
<text x="465.69" y="160.2" font-size="6.2" text-anchor="middle" font-weight="normal" fill="#231f20" >9</text>
<line x1="474.5" y1="149.0" x2="474.5" y2="152.2" stroke="#111" stroke-width="1.0"/>
<text x="474.5" y="160.2" font-size="6.2" text-anchor="middle" font-weight="normal" fill="#231f20" >10</text>
<line x1="483.31" y1="149.0" x2="483.31" y2="152.2" stroke="#111" stroke-width="1.0"/>
<text x="483.31" y="160.2" font-size="6.2" text-anchor="middle" font-weight="normal" fill="#231f20" >11</text>
<line x1="492.12" y1="149.0" x2="492.12" y2="152.2" stroke="#111" stroke-width="1.0"/>
<text x="492.12" y="160.2" font-size="6.2" text-anchor="middle" font-weight="normal" fill="#231f20" >12</text>
<line x1="500.92999999999995" y1="149.0" x2="500.92999999999995" y2="152.2" stroke="#111" stroke-width="1.0"/>
<text x="500.92999999999995" y="160.2" font-size="6.2" text-anchor="middle" font-weight="normal" fill="#231f20" >13</text>
<line x1="509.74" y1="149.0" x2="509.74" y2="152.2" stroke="#111" stroke-width="1.0"/>
<text x="509.74" y="160.2" font-size="6.2" text-anchor="middle" font-weight="normal" fill="#231f20" >14</text>
<text transform="translate(363,110.5) rotate(-90) scale(0.73,1)" font-size="7" font-weight="bold" text-anchor="middle" fill="#231f20">Survival probability</text>
<text transform="translate(425.4,172.1) scale(0.632,1)" font-size="8.2" font-weight="bold" text-anchor="start" fill="#231f20">Years from relapse</text>
<path d="M386.40,73.80 L389.04,88.30 L392.57,106.43 L396.97,117.30 L408.42,119.48 L417.23,120.93 L478.90,120.93 " fill="none" stroke="#f6dfb0" stroke-width="0.8" />
<path d="M386.40,73.80 L389.04,88.30 L392.57,110.05 L396.09,121.65 L417.76,121.65 L417.76,124.55 L427.81,124.55 L427.81,129.62 L482.43,129.62 " fill="none" stroke="#d7a57a" stroke-width="0.8" />
<path d="M386.40,73.80 L390.80,94.10 L396.97,112.95 L402.26,115.13 L408.42,117.30 L415.47,118.03 L509.74,118.03 " fill="none" stroke="#a6d6a0" stroke-width="0.8" />
<path d="M386.40,73.80 L390.80,94.10 L396.71,112.23 L401.73,113.89 L405.96,117.08 L410.63,119.04 L417.23,120.20 L423.40,122.38 L427.81,125.42 L479.79,125.42 " fill="none" stroke="#55648f" stroke-width="0.8" />
<path d="M386.40,73.80 L391.60,97.73 L397.85,110.05 L408.42,110.05 L408.42,114.62 L474.50,114.62 L474.50,146.30 " fill="none" stroke="#c46878" stroke-width="0.8" />
<text x="357.4" y="181.9" font-size="6.6" text-anchor="start" font-weight="normal" fill="#231f20" textLength="18.6" lengthAdjust="spacingAndGlyphs">At Risk</text>
<text x="357.4" y="189.0" font-size="3.95" text-anchor="start" font-weight="normal" fill="#231f20" >US, Private</text>
<text x="386.4" y="189.1" font-size="4.25" text-anchor="middle" font-weight="normal" fill="#231f20" >117</text>
<text x="395.21" y="189.1" font-size="4.25" text-anchor="middle" font-weight="normal" fill="#231f20" >58</text>
<text x="404.02" y="189.1" font-size="4.25" text-anchor="middle" font-weight="normal" fill="#231f20" >45</text>
<text x="412.83" y="189.1" font-size="4.25" text-anchor="middle" font-weight="normal" fill="#231f20" >39</text>
<text x="421.64" y="189.1" font-size="4.25" text-anchor="middle" font-weight="normal" fill="#231f20" >34</text>
<text x="430.45" y="189.1" font-size="4.25" text-anchor="middle" font-weight="normal" fill="#231f20" >29</text>
<text x="439.26" y="189.1" font-size="4.25" text-anchor="middle" font-weight="normal" fill="#231f20" >19</text>
<text x="448.07" y="189.1" font-size="4.25" text-anchor="middle" font-weight="normal" fill="#231f20" >15</text>
<text x="456.88" y="189.1" font-size="4.25" text-anchor="middle" font-weight="normal" fill="#231f20" >12</text>
<text x="465.69" y="189.1" font-size="4.25" text-anchor="middle" font-weight="normal" fill="#231f20" >11</text>
<text x="474.5" y="189.1" font-size="4.25" text-anchor="middle" font-weight="normal" fill="#231f20" >7</text>
<text x="483.31" y="189.1" font-size="4.25" text-anchor="middle" font-weight="normal" fill="#231f20" >4</text>
<text x="492.12" y="189.1" font-size="4.25" text-anchor="middle" font-weight="normal" fill="#231f20" >4</text>
<text x="500.92999999999995" y="189.1" font-size="4.25" text-anchor="middle" font-weight="normal" fill="#231f20" >2</text>
<text x="509.74" y="189.1" font-size="4.25" text-anchor="middle" font-weight="normal" fill="#231f20" >1</text>
<text x="357.4" y="195.8" font-size="3.95" text-anchor="start" font-weight="normal" fill="#231f20" >US, Medicaid</text>
<text x="386.4" y="195.9" font-size="4.25" text-anchor="middle" font-weight="normal" fill="#231f20" >45</text>
<text x="395.21" y="195.9" font-size="4.25" text-anchor="middle" font-weight="normal" fill="#231f20" >25</text>
<text x="404.02" y="195.9" font-size="4.25" text-anchor="middle" font-weight="normal" fill="#231f20" >19</text>
<text x="412.83" y="195.9" font-size="4.25" text-anchor="middle" font-weight="normal" fill="#231f20" >14</text>
<text x="421.64" y="195.9" font-size="4.25" text-anchor="middle" font-weight="normal" fill="#231f20" >13</text>
<text x="430.45" y="195.9" font-size="4.25" text-anchor="middle" font-weight="normal" fill="#231f20" >11</text>
<text x="439.26" y="195.9" font-size="4.25" text-anchor="middle" font-weight="normal" fill="#231f20" >8</text>
<text x="448.07" y="195.9" font-size="4.25" text-anchor="middle" font-weight="normal" fill="#231f20" >5</text>
<text x="456.88" y="195.9" font-size="4.25" text-anchor="middle" font-weight="normal" fill="#231f20" >5</text>
<text x="465.69" y="195.9" font-size="4.25" text-anchor="middle" font-weight="normal" fill="#231f20" >4</text>
<text x="474.5" y="195.9" font-size="4.25" text-anchor="middle" font-weight="normal" fill="#231f20" >2</text>
<text x="483.31" y="195.9" font-size="4.25" text-anchor="middle" font-weight="normal" fill="#231f20" >0</text>
<text x="492.12" y="195.9" font-size="4.25" text-anchor="middle" font-weight="normal" fill="#231f20" >0</text>
<text x="500.92999999999995" y="195.9" font-size="4.25" text-anchor="middle" font-weight="normal" fill="#231f20" >0</text>
<text x="509.74" y="195.9" font-size="4.25" text-anchor="middle" font-weight="normal" fill="#231f20" >0</text>
<text x="357.4" y="202.70000000000002" font-size="3.95" text-anchor="start" font-weight="normal" fill="#231f20" >US, Other</text>
<text x="386.4" y="202.8" font-size="4.25" text-anchor="middle" font-weight="normal" fill="#231f20" >20</text>
<text x="395.21" y="202.8" font-size="4.25" text-anchor="middle" font-weight="normal" fill="#231f20" >13</text>
<text x="404.02" y="202.8" font-size="4.25" text-anchor="middle" font-weight="normal" fill="#231f20" >9</text>
<text x="412.83" y="202.8" font-size="4.25" text-anchor="middle" font-weight="normal" fill="#231f20" >8</text>
<text x="421.64" y="202.8" font-size="4.25" text-anchor="middle" font-weight="normal" fill="#231f20" >5</text>
<text x="430.45" y="202.8" font-size="4.25" text-anchor="middle" font-weight="normal" fill="#231f20" >3</text>
<text x="439.26" y="202.8" font-size="4.25" text-anchor="middle" font-weight="normal" fill="#231f20" >2</text>
<text x="448.07" y="202.8" font-size="4.25" text-anchor="middle" font-weight="normal" fill="#231f20" >2</text>
<text x="456.88" y="202.8" font-size="4.25" text-anchor="middle" font-weight="normal" fill="#231f20" >1</text>
<text x="465.69" y="202.8" font-size="4.25" text-anchor="middle" font-weight="normal" fill="#231f20" >1</text>
<text x="474.5" y="202.8" font-size="4.25" text-anchor="middle" font-weight="normal" fill="#231f20" >0</text>
<text x="483.31" y="202.8" font-size="4.25" text-anchor="middle" font-weight="normal" fill="#231f20" >0</text>
<text x="492.12" y="202.8" font-size="4.25" text-anchor="middle" font-weight="normal" fill="#231f20" >0</text>
<text x="500.92999999999995" y="202.8" font-size="4.25" text-anchor="middle" font-weight="normal" fill="#231f20" >0</text>
<text x="509.74" y="202.8" font-size="4.25" text-anchor="middle" font-weight="normal" fill="#231f20" >0</text>
<text x="357.4" y="209.4" font-size="3.95" text-anchor="start" font-weight="normal" fill="#231f20" >US, Unknown</text>
<text x="386.4" y="209.5" font-size="4.25" text-anchor="middle" font-weight="normal" fill="#231f20" >13</text>
<text x="395.21" y="209.5" font-size="4.25" text-anchor="middle" font-weight="normal" fill="#231f20" >5</text>
<text x="404.02" y="209.5" font-size="4.25" text-anchor="middle" font-weight="normal" fill="#231f20" >4</text>
<text x="412.83" y="209.5" font-size="4.25" text-anchor="middle" font-weight="normal" fill="#231f20" >4</text>
<text x="421.64" y="209.5" font-size="4.25" text-anchor="middle" font-weight="normal" fill="#231f20" >3</text>
<text x="430.45" y="209.5" font-size="4.25" text-anchor="middle" font-weight="normal" fill="#231f20" >2</text>
<text x="439.26" y="209.5" font-size="4.25" text-anchor="middle" font-weight="normal" fill="#231f20" >2</text>
<text x="448.07" y="209.5" font-size="4.25" text-anchor="middle" font-weight="normal" fill="#231f20" >1</text>
<text x="456.88" y="209.5" font-size="4.25" text-anchor="middle" font-weight="normal" fill="#231f20" >1</text>
<text x="465.69" y="209.5" font-size="4.25" text-anchor="middle" font-weight="normal" fill="#231f20" >1</text>
<text x="474.5" y="209.5" font-size="4.25" text-anchor="middle" font-weight="normal" fill="#231f20" >1</text>
<text x="483.31" y="209.5" font-size="4.25" text-anchor="middle" font-weight="normal" fill="#231f20" >0</text>
<text x="492.12" y="209.5" font-size="4.25" text-anchor="middle" font-weight="normal" fill="#231f20" >0</text>
<text x="500.92999999999995" y="209.5" font-size="4.25" text-anchor="middle" font-weight="normal" fill="#231f20" >0</text>
<text x="509.74" y="209.5" font-size="4.25" text-anchor="middle" font-weight="normal" fill="#231f20" >0</text>
<text x="357.4" y="216.0" font-size="3.95" text-anchor="start" font-weight="normal" fill="#231f20" >International</text>
<text x="386.4" y="216.1" font-size="4.25" text-anchor="middle" font-weight="normal" fill="#231f20" >22</text>
<text x="395.21" y="216.1" font-size="4.25" text-anchor="middle" font-weight="normal" fill="#231f20" >15</text>
<text x="404.02" y="216.1" font-size="4.25" text-anchor="middle" font-weight="normal" fill="#231f20" >12</text>
<text x="412.83" y="216.1" font-size="4.25" text-anchor="middle" font-weight="normal" fill="#231f20" >9</text>
<text x="421.64" y="216.1" font-size="4.25" text-anchor="middle" font-weight="normal" fill="#231f20" >9</text>
<text x="430.45" y="216.1" font-size="4.25" text-anchor="middle" font-weight="normal" fill="#231f20" >8</text>
<text x="439.26" y="216.1" font-size="4.25" text-anchor="middle" font-weight="normal" fill="#231f20" >7</text>
<text x="448.07" y="216.1" font-size="4.25" text-anchor="middle" font-weight="normal" fill="#231f20" >5</text>
<text x="456.88" y="216.1" font-size="4.25" text-anchor="middle" font-weight="normal" fill="#231f20" >5</text>
<text x="465.69" y="216.1" font-size="4.25" text-anchor="middle" font-weight="normal" fill="#231f20" >2</text>
<text x="474.5" y="216.1" font-size="4.25" text-anchor="middle" font-weight="normal" fill="#231f20" >1</text>
<text x="483.31" y="216.1" font-size="4.25" text-anchor="middle" font-weight="normal" fill="#231f20" >0</text>
<text x="492.12" y="216.1" font-size="4.25" text-anchor="middle" font-weight="normal" fill="#231f20" >0</text>
<text x="500.92999999999995" y="216.1" font-size="4.25" text-anchor="middle" font-weight="normal" fill="#231f20" >0</text>
<text x="509.74" y="216.1" font-size="4.25" text-anchor="middle" font-weight="normal" fill="#231f20" >0</text>
<rect x="0" y="0" width="520" height="1" fill="#585858"/>
<rect x="0" y="236" width="520" height="1" fill="#3a3a3a"/>
<rect x="0" y="235" width="520" height="1" fill="#eeeeee"/>
<rect x="0" y="0" width="1" height="237" fill="#4a4a4a"/>
<rect x="1" y="1" width="1" height="235" fill="#eaeaea"/>
<rect x="519" y="0" width="1" height="237" fill="#3a3a3a"/>
<rect x="518" y="1" width="1" height="235" fill="#eeeeee"/>
<rect x="516" y="1" width="1" height="235" fill="#f4f4f4"/>
</svg></body></html>
